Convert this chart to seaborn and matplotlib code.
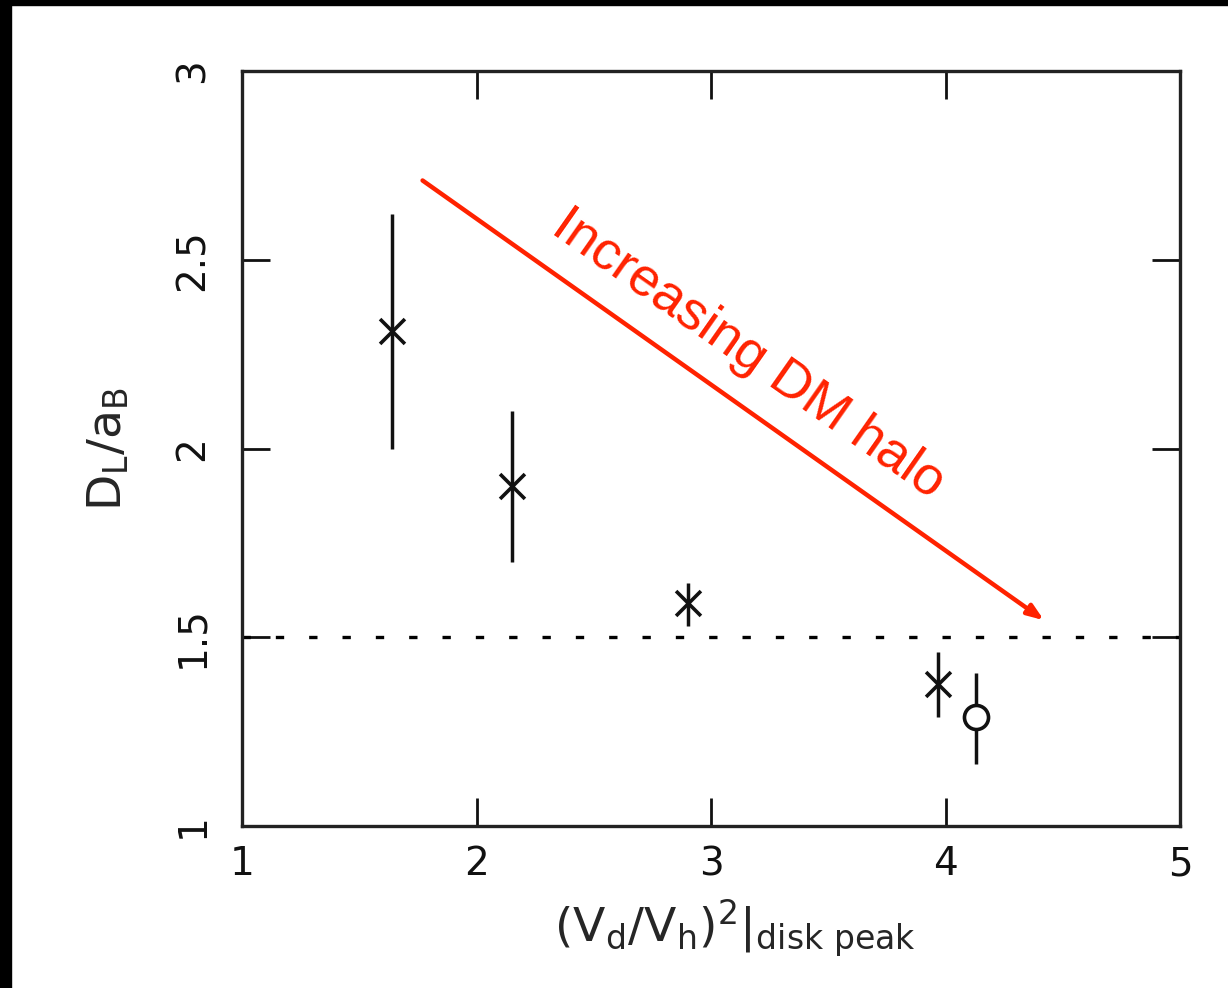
import matplotlib
matplotlib.use("Agg")
import matplotlib.pyplot as plt
from matplotlib.patches import Rectangle
import seaborn as sns
import pandas as pd
import numpy as np

# data
x_vals = [1.64, 2.15, 2.90, 3.97, 4.13]
y_vals = [2.31, 1.90, 1.59, 1.375, 1.29]
y_err_low = [0.31, 0.20, 0.06, 0.085, 0.125]
y_err_high = [0.31, 0.20, 0.055, 0.085, 0.115]
marker_kind = ["cross", "cross", "cross", "cross", "circle"]
ref_level = 1.5
arrow_start = (1.77, 2.71)
arrow_end = (4.42, 1.545)
annotation = "Increasing DM halo"
annotation_pos = (3.16, 2.25)
x_ticks = [1, 2, 3, 4, 5]
y_ticks = [1, 1.5, 2, 2.5, 3]
y_tick_labels = ["1", "1.5", "2", "2.5", "3"]

df = pd.DataFrame({"x": x_vals, "y": y_vals, "kind": marker_kind})

sns.set_theme(style="ticks")
plt.rcParams["font.family"] = ["DejaVu Sans"]
plt.rcParams["mathtext.fontset"] = "dejavusans"
plt.rcParams["mathtext.default"] = "regular"

fig = plt.figure(figsize=(12.28, 9.88), dpi=100)
ax = fig.add_axes([242 / 1228, 1 - 826 / 988, (1180 - 242) / 1228, (826 - 71) / 988])

ax.axhline(ref_level, color="black", lw=2.4, linestyle=(0, (2.5, 7.5)), zorder=1)

ax.errorbar(x_vals, y_vals, yerr=[y_err_low, y_err_high], fmt="none",
            ecolor="#111111", elinewidth=2.5, capsize=0, zorder=2)

cross = df[df["kind"] == "cross"]
circ = df[df["kind"] == "circle"]
sns.scatterplot(data=cross, x="x", y="y", marker="x", s=320,
                color="#111111", linewidth=2.6, legend=False, ax=ax, zorder=3)
sns.scatterplot(data=circ, x="x", y="y", marker="o", s=300,
                facecolor="white", edgecolor="#111111", linewidth=2.6,
                legend=False, ax=ax, zorder=4)

ax.annotate("", xy=arrow_end, xytext=arrow_start,
            arrowprops=dict(arrowstyle="-|>,head_length=0.8,head_width=0.3",
                            color="#ff2200", lw=3.2, shrinkA=0, shrinkB=0), zorder=5)
ax.text(annotation_pos[0], annotation_pos[1], annotation, color="#ff2200", fontsize=39,
        family=["Liberation Sans", "DejaVu Sans"],
        rotation=-35, ha="center", va="center", rotation_mode="anchor", zorder=5)

ax.set_xlim(1, 5)
ax.set_ylim(1, 3)
ax.set_xticks(x_ticks)
ax.set_yticks(y_ticks)
ax.set_yticklabels(y_tick_labels, rotation=90, va="center")
ax.tick_params(direction="in", length=20, width=2, top=True, right=True,
               labelsize=28, pad=14, colors="#111111")
ax.tick_params(axis="y", pad=22)
for sp in ax.spines.values():
    sp.set_linewidth(2.4)
    sp.set_color("#222222")

ax.set_xlabel(r"$(V_d/V_h)^2|_{\mathrm{disk\ peak}}$", fontsize=34, labelpad=10)
ax.xaxis.label.set_x(0.525)
ax.set_ylabel(r"$D_L/a_B$", fontsize=34, labelpad=30)

# black border strips (top and left) of the reference image
fig.patches.append(Rectangle((0, 1 - 5 / 988), 1, 5 / 988, transform=fig.transFigure,
                             color="black", zorder=10))
fig.patches.append(Rectangle((0, 0), 11 / 1228, 1, transform=fig.transFigure,
                             color="black", zorder=10))

fig.savefig("out.png", dpi=100, facecolor="white")
